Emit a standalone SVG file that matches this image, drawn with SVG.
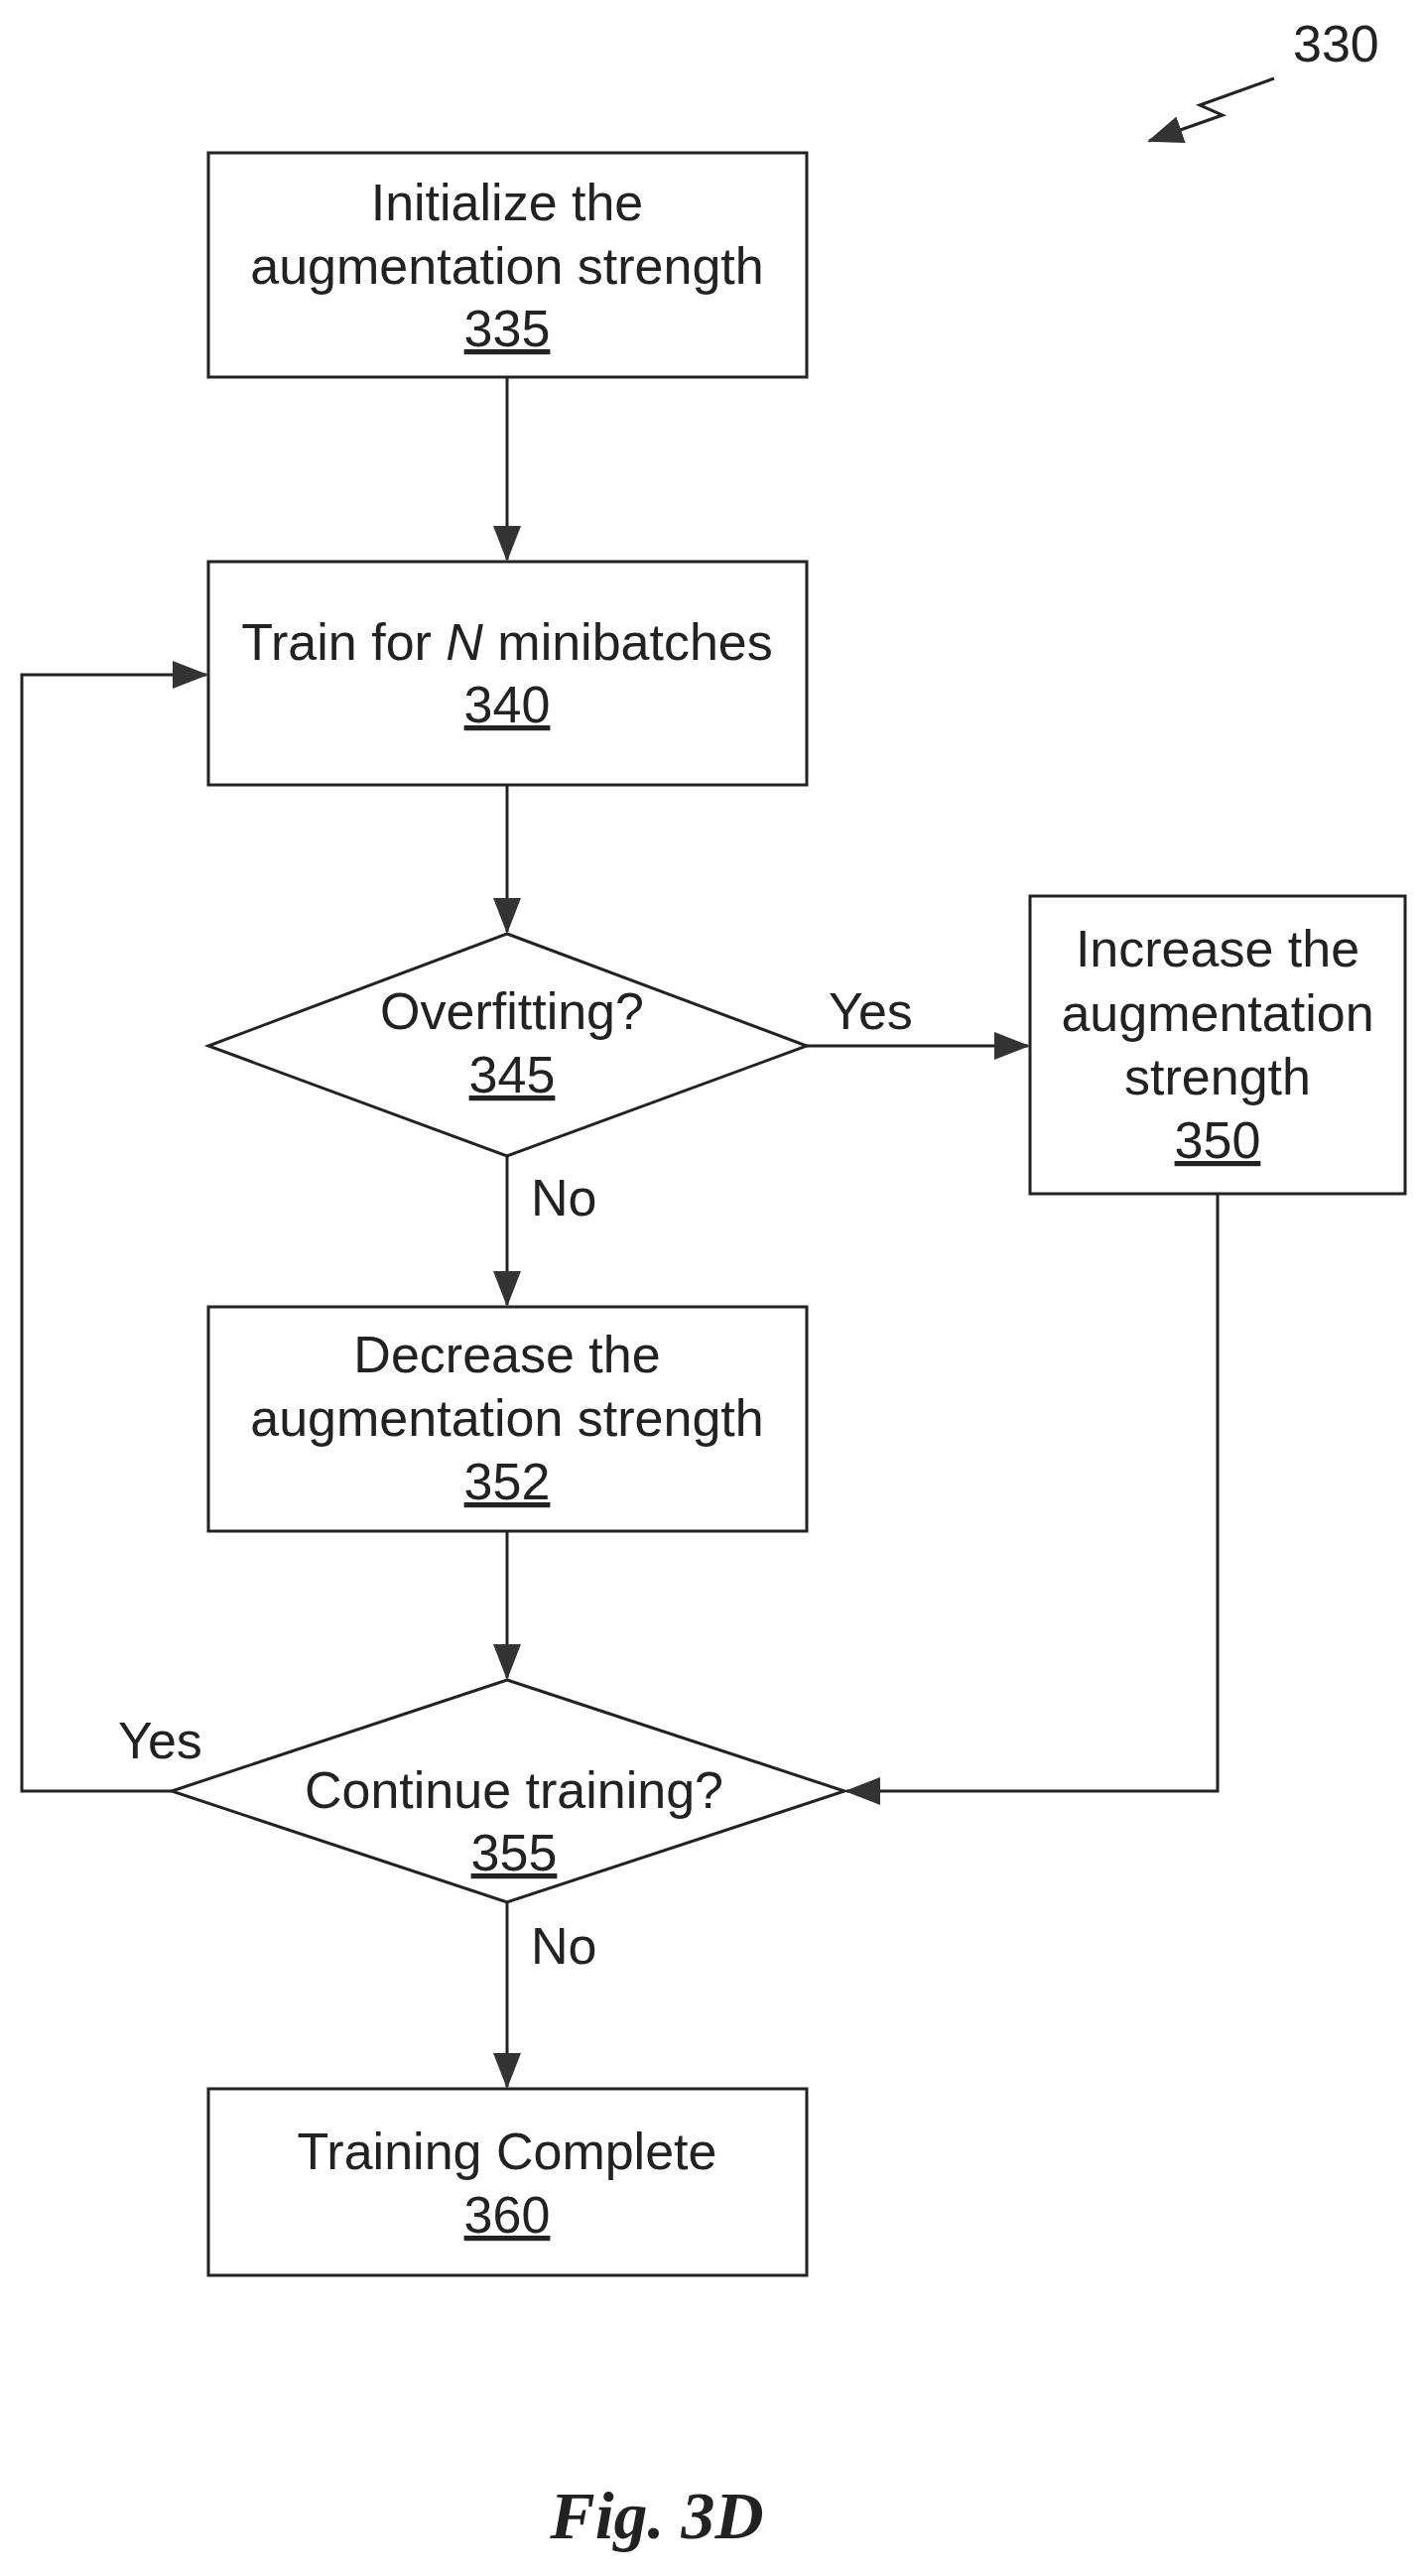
<svg xmlns="http://www.w3.org/2000/svg" width="1432" height="2596" viewBox="0 0 1432 2596">
<style>
.b{fill:#fff;stroke:#222;stroke-width:3}
.t{font-family:"Liberation Sans",Arial,sans-serif;font-size:52px;fill:#222;text-anchor:middle}
.l{font-family:"Liberation Sans",Arial,sans-serif;font-size:52px;fill:#222}
.c{fill:none;stroke:#222;stroke-width:3}
</style>
<defs>
<marker id="a" markerUnits="userSpaceOnUse" markerWidth="36" markerHeight="28" refX="34" refY="14" orient="auto">
<path d="M0,0 L36,14 L0,28 Z" fill="#333"/>
</marker>
</defs>
<g id="connectors">
<path class="c" d="M511,380 V564" marker-end="url(#a)"/>
<path class="c" d="M511,791 V939" marker-end="url(#a)"/>
<path class="c" d="M813,1054 H1036" marker-end="url(#a)"/>
<path class="c" d="M511,1165 V1315" marker-end="url(#a)"/>
<path class="c" d="M511,1543 V1691" marker-end="url(#a)"/>
<path class="c" d="M511,1917 V2103" marker-end="url(#a)"/>
<path class="c" d="M1227,1203 V1805 H853" marker-end="url(#a)"/>
<path class="c" d="M173,1805 H22 V680 H208" marker-end="url(#a)"/>
<path class="c" d="M1284,79 L1209,106 L1232,116 L1158,142" marker-end="url(#a)"/>
<text class="l" x="835" y="1037">Yes</text>
<text class="l" x="535" y="1225">No</text>
<text class="l" x="119" y="1772">Yes</text>
<text class="l" x="535" y="1979">No</text>
</g>
<g id="n330"><text class="l" x="1303" y="62">330</text></g>
<g id="n335">
<rect class="b" x="210" y="154" width="603" height="226"/>
<text class="t" x="511" y="222">Initialize the</text>
<text class="t" x="511" y="286">augmentation strength</text>
<text class="t" x="511" y="349" text-decoration="underline">335</text>
</g>
<g id="n340">
<rect class="b" x="210" y="566" width="603" height="225"/>
<text class="t" x="511" y="665">Train for <tspan font-style="italic">N</tspan> minibatches</text>
<text class="t" x="511" y="728" text-decoration="underline">340</text>
</g>
<g id="n345">
<polygon class="b" points="511,941 813,1054 511,1165 210,1054"/>
<text class="t" x="516" y="1037">Overfitting?</text>
<text class="t" x="516" y="1101" text-decoration="underline">345</text>
</g>
<g id="n350">
<rect class="b" x="1038" y="903" width="378" height="300"/>
<text class="t" x="1227" y="974">Increase the</text>
<text class="t" x="1227" y="1039">augmentation</text>
<text class="t" x="1227" y="1103">strength</text>
<text class="t" x="1227" y="1167" text-decoration="underline">350</text>
</g>
<g id="n352">
<rect class="b" x="210" y="1317" width="603" height="226"/>
<text class="t" x="511" y="1383">Decrease the</text>
<text class="t" x="511" y="1447">augmentation strength</text>
<text class="t" x="511" y="1511" text-decoration="underline">352</text>
</g>
<g id="n355">
<polygon class="b" points="511,1693 851,1805 511,1917 173,1805"/>
<text class="t" x="518" y="1822">Continue training?</text>
<text class="t" x="518" y="1885" text-decoration="underline">355</text>
</g>
<g id="n360">
<rect class="b" x="210" y="2105" width="603" height="188"/>
<text class="t" x="511" y="2186">Training Complete</text>
<text class="t" x="511" y="2250" text-decoration="underline">360</text>
</g>
<text x="662" y="2558" font-family="'Liberation Serif','Times New Roman',serif" font-size="68" font-weight="bold" font-style="italic" text-anchor="middle" fill="#222">Fig. 3D</text>
</svg>
